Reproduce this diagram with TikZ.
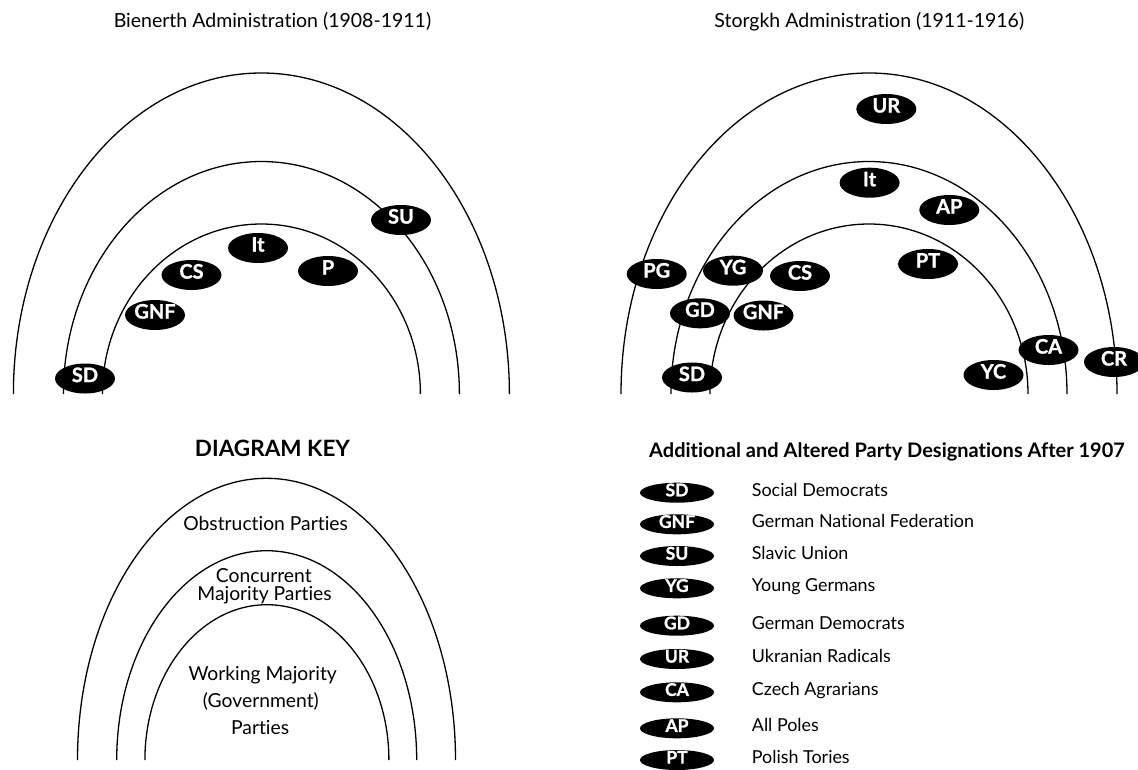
\documentclass[tikz,border=0pt]{standalone}
\usepackage{fontspec}
\setmainfont{Lato}[Ligatures=NoCommon]
\newfontfamily\heavyfont{Lato}[BoldFeatures={FakeBold=1.2}]
\usetikzlibrary{shapes.geometric}
\begin{document}
\begin{tikzpicture}[x=1pt,y=-1pt,
  arch/.style={line width=1.3pt},
  party/.style={ellipse, fill=black, text=white, inner sep=0pt,
    minimum width=60pt, minimum height=30pt,
    font=\fontsize{20}{20}\heavyfont\bfseries, text height=0.72em, text depth=0pt},
  legparty/.style={party, minimum width=74pt, minimum height=20pt,
    font=\fontsize{17.5}{17.5}\heavyfont\bfseries},
  label/.style={inner sep=0pt, font=\fontsize{19.3}{19.3}\selectfont, text height=0.72em, text depth=0pt},
  heading/.style={inner sep=0pt, font=\fontsize{19.5}{19.5}\selectfont, text height=0.72em, text depth=0pt},
  boldhead/.style={inner sep=0pt, font=\fontsize{20}{20}\selectfont\bfseries, text height=0.72em, text depth=0pt},
  keyhead/.style={boldhead, font=\fontsize{22.5}{22.5}\selectfont\bfseries},
  legtext/.style={inner sep=0pt, anchor=west, font=\fontsize{17.9}{17.9}\selectfont, text height=0.72em, text depth=0pt}
]
\useasboundingbox (0,0) rectangle (1138,769);

% ---------- Bienerth ----------
\node[heading] (t1) at (272.5,24.2) {Bienerth Administration (1908-1911)};
\draw[arch] (13.4,394) arc[start angle=180, end angle=0, x radius=248pt, y radius=321pt];
\draw[arch] (63.4,394) arc[start angle=180, end angle=0, x radius=198pt, y radius=232.5pt];
\draw[arch] (102.4,394) arc[start angle=180, end angle=0, x radius=159pt, y radius=170pt];
\node[party] (b-sd)  at (85,378.5) {SD};
\node[party] (b-gnf) at (155,315) {GNF};
\node[party] (b-cs)  at (191.5,275) {CS};
\node[party] (b-it)  at (258,248) {It};
\node[party] (b-p)   at (328,271) {P};
\node[party] (b-su)  at (401,220) {SU};

% ---------- Storgkh ----------
\node[heading] (t2) at (869.3,24.2) {Storgkh Administration (1911-1916)};
\draw[arch] (621,394) arc[start angle=180, end angle=0, x radius=248pt, y radius=321pt];
\draw[arch] (671,394) arc[start angle=180, end angle=0, x radius=198pt, y radius=232.5pt];
\draw[arch] (710,394) arc[start angle=180, end angle=0, x radius=159pt, y radius=170pt];
\node[party] (s-ur)  at (886.3,109) {UR};
\node[party] (s-it)  at (869.6,182.7) {It};
\node[party] (s-ap)  at (949.3,210) {AP};
\node[party] (s-pt)  at (928,264) {PT};
\node[party] (s-pg)  at (656.7,274) {PG};
\node[party] (s-yg)  at (733,270.7) {YG};
\node[party] (s-cs)  at (800,276) {CS};
\node[party] (s-gd)  at (700,313.3) {GD};
\node[party] (s-gnf) at (763.5,315.5) {GNF};
\node[party] (s-sd)  at (692,377.5) {SD};
\node[party] (s-ca)  at (1048.5,350) {CA};
\node[party] (s-yc)  at (993.5,375) {YC};
\node[party] (s-cr)  at (1114,362) {CR};

% ---------- Diagram key ----------
\node[keyhead] (kt) at (272.5,452.5) {DIAGRAM KEY};
\draw[arch] (77.5,760) arc[start angle=180, end angle=0, x radius=189pt, y radius=281.7pt];
\draw[arch] (116.7,760) arc[start angle=180, end angle=0, x radius=150pt, y radius=209.3pt];
\draw[arch] (144.9,760) arc[start angle=180, end angle=0, x radius=122pt, y radius=155.3pt];
\node[label] (k-ob) at (265.6,526.7) {Obstruction Parties};
\node[label] (k-c1) at (263.8,579) {Concurrent};
\node[label] (k-c2) at (264.5,596.7) {Majority Parties};
\node[label] (k-w1) at (262.7,677.3) {Working Majority};
\node[label] (k-w2) at (260.9,703.5) {(Government)};
\node[label] (k-w3) at (260.1,730.5) {Parties};

% ---------- Legend ----------
\node[boldhead, anchor=west] (lt) at (649,454) {Additional and Altered Party Designations After 1907};
\foreach \ab/\name/\yy in {SD/Social Democrats/492.7, GNF/German National Federation/524.3,
  SU/Slavic Union/556, YG/Young Germans/588.3, GD/German Democrats/625.7,
  UR/Ukranian Radicals/659, CA/Czech Agrarians/692.3, AP/All Poles/728.3, PT/Polish Tories/760}{
  \node[legparty] (l-\ab) at (677,\yy) {\ab};
  \node[legtext] (n-\ab) at (751.7,\yy) {\name};
}
\end{tikzpicture}
\end{document}
